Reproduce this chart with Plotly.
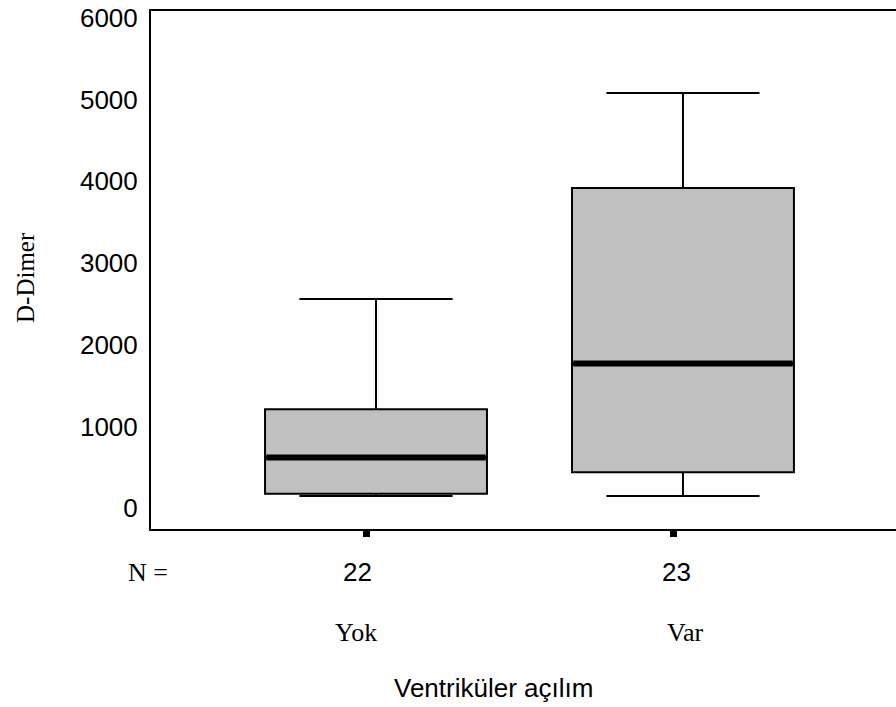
import plotly.graph_objects as go

# Group labels and counts
groups = ["Yok", "Var"]
counts = [22, 23]

# Box statistics for D-Dimer per group
lower_whisker = [150, 150]
q1 = [175, 440]
median = [620, 1770]
q3 = [1210, 3920]
upper_whisker = [2560, 5080]

y_tick_values = [0, 1000, 2000, 3000, 4000, 5000, 6000]

positions = list(range(len(groups)))
box_width = 0.723
SANS = "Liberation Sans, Arial, sans-serif"
SERIF = "Liberation Serif, Times New Roman, serif"

fig = go.Figure()

fig.add_trace(go.Box(
    x=positions,
    q1=q1,
    median=median,
    q3=q3,
    lowerfence=lower_whisker,
    upperfence=upper_whisker,
    width=box_width,
    whiskerwidth=0.69,
    fillcolor="#c0c0c0",
    line=dict(color="black", width=2),
    boxpoints=False,
    hoverinfo="skip",
    showlegend=False,
))

# Heavy median bars drawn over each box
for p, m in zip(positions, median):
    fig.add_trace(go.Scatter(
        x=[p - box_width / 2 + 0.004, p + box_width / 2 - 0.004],
        y=[m, m],
        mode="lines",
        line=dict(color="black", width=6),
        hoverinfo="skip",
        showlegend=False,
    ))

# Plot area spans y pixels 11..529
PLOT_TOP, PLOT_BOTTOM = 11, 529
def paper_y(py):
    return (PLOT_BOTTOM - py) / (PLOT_BOTTOM - PLOT_TOP)

annotations = []
# "N =" row
annotations.append(dict(text="N =", x=(148 - 151) / 745, xref="paper",
                        y=paper_y(572), yref="paper", showarrow=False,
                        xanchor="center", yanchor="middle",
                        font=dict(family=SERIF, size=26, color="black")))
n_dx = [-0.06, -0.02]
cat_dx = [-0.065, 0.006]
for p, n, g, dn, dc in zip(positions, counts, groups, n_dx, cat_dx):
    annotations.append(dict(text=str(n), x=p + dn, xref="x",
                            y=paper_y(572), yref="paper", showarrow=False,
                            xanchor="center", yanchor="middle",
                            font=dict(family=SANS, size=26, color="black")))
    annotations.append(dict(text=g, x=p + dc, xref="x",
                            y=paper_y(632), yref="paper", showarrow=False,
                            xanchor="center", yanchor="middle",
                            font=dict(family=SERIF, size=26, color="black")))
# Axis titles
annotations.append(dict(text="Ventriküler açılım", x=(493 - 151) / 745, xref="paper",
                        y=paper_y(688), yref="paper", showarrow=False,
                        xanchor="center", yanchor="middle",
                        font=dict(family=SANS, size=26, color="black")))
annotations.append(dict(text="D-Dimer", x=(25 - 151) / 745, xref="paper",
                        y=paper_y(277), yref="paper", showarrow=False,
                        textangle=-90, xanchor="center", yanchor="middle",
                        font=dict(family=SERIF, size=25, color="black")))

fig.update_layout(
    width=896,
    height=707,
    margin=dict(l=151, r=0, t=PLOT_TOP, b=707 - PLOT_BOTTOM, pad=0),
    paper_bgcolor="white",
    plot_bgcolor="white",
    showlegend=False,
    annotations=annotations,
    xaxis=dict(
        range=[-0.733, 1.694],
        tickvals=[p - 0.03 for p in positions],
        ticktext=["" for _ in positions],
        ticks="outside",
        ticklen=6,
        tickwidth=7,
        tickcolor="black",
        showline=True,
        linecolor="black",
        linewidth=2,
        mirror=True,
        showgrid=False,
        zeroline=False,
    ),
    yaxis=dict(
        range=[-255, 6085],
        tickvals=y_tick_values,
        ticktext=[str(v) for v in y_tick_values],
        tickfont=dict(family=SANS, size=26, color="black"),
        ticks="",
        ticklabelstandoff=6,
        showline=True,
        linecolor="black",
        linewidth=2,
        showgrid=False,
        zeroline=False,
    ),
)

fig.write_html("out.html")
